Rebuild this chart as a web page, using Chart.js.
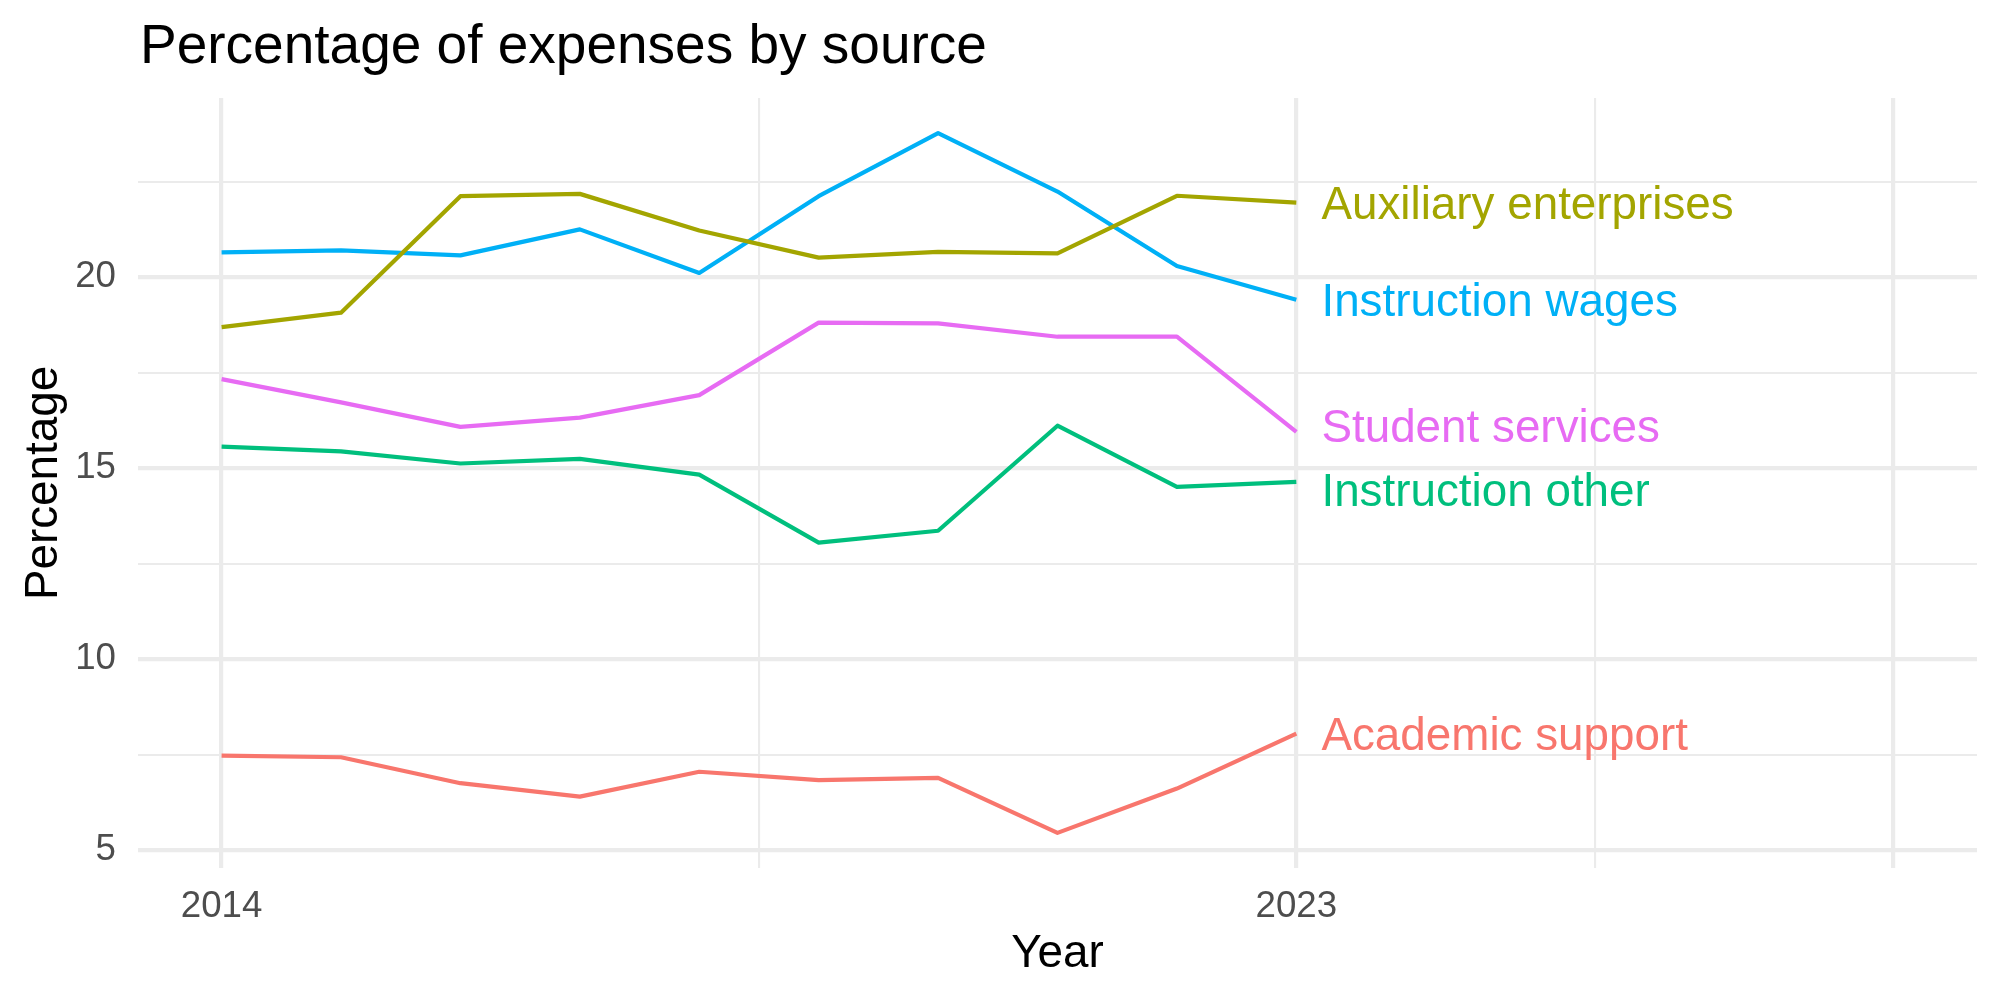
<!DOCTYPE html>
<html>
<head>
<meta charset="utf-8">
<title>Percentage of expenses by source</title>
<script src="https://cdn.jsdelivr.net/npm/chart.js@4.4.1/dist/chart.umd.min.js"></script>
<style>
  html, body { margin: 0; padding: 0; background: #ffffff; }
  #chart { display: block; }
</style>
</head>
<body>
<canvas id="chart" width="2000" height="1000"></canvas>
<script>
// Years on the x axis
const years = [2014, 2015, 2016, 2017, 2018, 2019, 2020, 2021, 2022, 2023];

// Series values, percent of expenses
const academicSupport      = [7.47, 7.43, 6.75, 6.40, 7.05, 6.83, 6.89, 5.45, 6.61, 8.05];
const auxiliaryEnterprises = [18.69, 19.07, 22.12, 22.18, 21.22, 20.51, 20.66, 20.62, 22.13, 21.95];
const instructionOther     = [15.56, 15.44, 15.12, 15.24, 14.83, 13.05, 13.36, 16.11, 14.51, 14.64];
const instructionWages     = [20.65, 20.70, 20.57, 21.25, 20.11, 22.12, 23.77, 22.24, 20.29, 19.41];
const studentServices      = [17.33, 16.72, 16.08, 16.32, 16.91, 18.81, 18.79, 18.44, 18.44, 15.95];

const seriesNames = ['Academic support', 'Auxiliary enterprises', 'Instruction other', 'Instruction wages', 'Student services'];

// Tick positions and labels
const xMajorTicks = [2014, 2023, 2028];
const xMinorTicks = [2018.5, 2025.5];
const xTickLabels = ['2014', '2023', ''];
const yMajorTicks = [5, 10, 15, 20];
const yMinorTicks = [7.5, 12.5, 17.5, 22.5];

// ggplot default hue palette
const colors = ['#F8766D', '#A3A500', '#00BF7D', '#00B0F6', '#E76BF3'];
const FONT = '"Liberation Sans", Arial, Helvetica, sans-serif';
const GRID = '#EBEBEB';

const allSeries = [academicSupport, auxiliaryEnterprises, instructionOther, instructionWages, studentServices];

const datasets = allSeries.map((vals, i) => ({
  label: seriesNames[i],
  data: years.map((y, j) => ({ x: y, y: vals[j] })),
  borderColor: colors[i],
  backgroundColor: colors[i],
  borderWidth: 4.2,
  pointRadius: 0,
  tension: 0,
  fill: false,
  borderJoinStyle: 'round'
}));

// Direct labels at the end of each line plus the plot title
const endLabels = {
  id: 'endLabels',
  afterDatasetsDraw(chart, args, opts) {
    const { ctx, scales: { x, y } } = chart;
    const size = 45.8;
    ctx.save();
    ctx.font = size + 'px ' + FONT;
    ctx.textAlign = 'left';
    ctx.textBaseline = 'alphabetic';
    chart.data.datasets.forEach((ds, i) => {
      const last = ds.data[ds.data.length - 1];
      const px = x.getPixelForValue(last.x + opts.nudgeX);
      const py = y.getPixelForValue(last.y + (opts.shiftY[i] || 0));
      ctx.fillStyle = ds.borderColor;
      // centre the capitals on the value, like vjust = 0.5
      ctx.fillText(ds.label, px, py + size * 0.36);
    });
    ctx.restore();
  },
  afterDraw(chart, args, opts) {
    const { ctx } = chart;
    ctx.save();
    ctx.font = '55px ' + FONT;
    ctx.fillStyle = '#000000';
    ctx.textAlign = 'left';
    ctx.textBaseline = 'alphabetic';
    ctx.fillText(opts.title, 140, 63);
    ctx.restore();
  }
};

const isMajor = (list, v) => list.some(m => Math.abs(m - v) < 1e-6);

new Chart(document.getElementById('chart'), {
  type: 'line',
  data: { datasets },
  plugins: [endLabels],
  options: {
    responsive: false,
    devicePixelRatio: 1,
    animation: false,
    layout: { padding: { top: 98, right: 23, bottom: 0, left: 0 } },
    plugins: {
      legend: { display: false },
      tooltip: { enabled: false },
      endLabels: {
        title: 'Percentage of expenses by source',
        nudgeX: 0.21,
        shiftY: [0, 0, -0.19, 0, 0.17]
      }
    },
    scales: {
      x: {
        type: 'linear',
        min: 2013.3,
        max: 2028.7,
        afterBuildTicks(scale) {
          scale.ticks = xMajorTicks.concat(xMinorTicks).sort((a, b) => a - b).map(v => ({ value: v }));
        },
        afterFit(scale) { scale.height = 132; },
        border: { display: false },
        grid: {
          color: GRID,
          drawTicks: false,
          lineWidth: c => (c.tick && isMajor(xMajorTicks, c.tick.value)) ? 4.2 : 2.1
        },
        ticks: {
          autoSkip: false,
          maxRotation: 0,
          padding: 17,
          color: '#4D4D4D',
          font: { family: FONT, size: 36.7 },
          callback: v => {
            const k = xMajorTicks.indexOf(v);
            return k >= 0 ? xTickLabels[k] : '';
          }
        },
        title: {
          display: true,
          text: 'Year',
          color: '#000000',
          font: { family: FONT, size: 45.8, lineHeight: 1.2 },
          padding: { top: 0, bottom: 18 }
        }
      },
      y: {
        type: 'linear',
        min: 4.53,
        max: 24.69,
        afterBuildTicks(scale) {
          scale.ticks = yMajorTicks.concat(yMinorTicks).sort((a, b) => a - b).map(v => ({ value: v }));
        },
        afterFit(scale) { scale.width = 138; },
        border: { display: false },
        grid: {
          color: GRID,
          drawTicks: false,
          lineWidth: c => (c.tick && isMajor(yMajorTicks, c.tick.value)) ? 4.2 : 2.1
        },
        ticks: {
          padding: 22,
          color: '#4D4D4D',
          font: { family: FONT, size: 36.7 },
          callback: v => isMajor(yMajorTicks, v) ? String(v) : ''
        },
        title: {
          display: true,
          text: 'Percentage',
          color: '#000000',
          font: { family: FONT, size: 45.8, lineHeight: 1.2 },
          padding: { top: 17, bottom: 0 }
        }
      }
    }
  }
});
</script>
</body>
</html>
